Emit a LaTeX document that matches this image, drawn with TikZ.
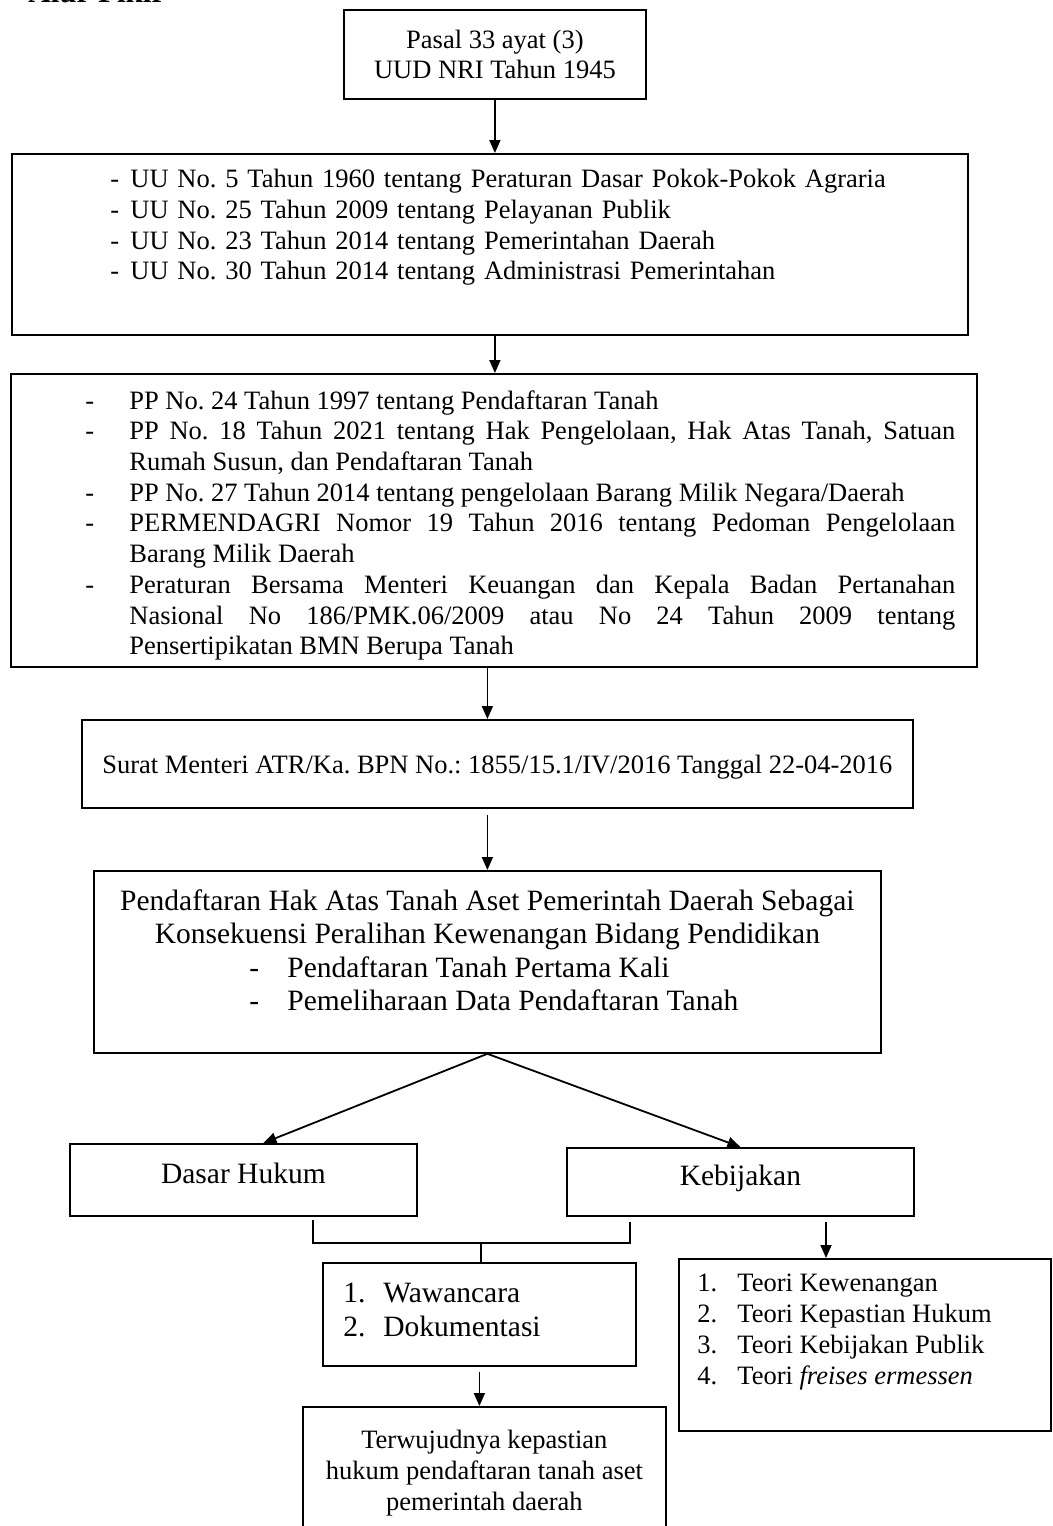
\documentclass[tikz,border=0pt]{standalone}
\usepackage{fontspec}
\setmainfont{Liberation Serif}
\usetikzlibrary{positioning,arrows.meta}

\frenchspacing
\hyphenpenalty=10000
\tolerance=9999

\newcommand{\butir}[2]{\par\noindent\hangindent=#1\hangafter=1\makebox[#1][l]{#2}\ignorespaces}

\begin{document}
\begin{tikzpicture}[x=0.5pt, y=-0.5pt,
    kotak/.style={draw, line width=0.9pt, inner sep=0pt, anchor=north west},
    teks/.style={inner sep=0pt, font=\fontsize{13.25}{15.35}\selectfont},
    teksbesar/.style={inner sep=0pt, font=\fontsize{14.75}{16.8}\selectfont},
    panah/.style={line width=0.9pt, -{Triangle[length=6.5pt, width=5.5pt]}},
    garis/.style={line width=0.9pt}]

    \useasboundingbox (0,0) rectangle (1053,1526);

    % Define nodes
    \node[anchor=base west, inner sep=0pt, font=\fontsize{15.5}{18}\selectfont\bfseries] (judul) at (28,2) {Alur Pikir};

    \node[kotak, teks, align=center, minimum width=151pt, minimum height=44.5pt] (pasal) at (343,9) {Pasal 33 ayat (3)\\UUD NRI Tahun 1945};

    \node[kotak, minimum width=478pt, minimum height=90.5pt] (uu) at (11,153) {};
    \node[teks, align=left, text width=390pt, below right=8pt and 49.5pt of uu.north west] (uuisi)
        {\makebox[10pt][l]{-}UU No. 5 Tahun 1960 tentang Peraturan Dasar Pokok-Pokok Agraria\\
         \makebox[10pt][l]{-}UU No. 25 Tahun 2009 tentang Pelayanan Publik\\
         \makebox[10pt][l]{-}UU No. 23 Tahun 2014 tentang Pemerintahan Daerah\\
         \makebox[10pt][l]{-}UU No. 30 Tahun 2014 tentang Administrasi Pemerintahan};

    \node[kotak, minimum width=483pt, minimum height=146.5pt] (pp) at (10,373) {};
    \node[teks, align=justify, text width=435pt, below right=2.5pt and 37.5pt of pp.north west] (ppisi)
        {\butir{22pt}{-}PP No. 24 Tahun 1997 tentang Pendaftaran Tanah
         \butir{22pt}{-}PP No. 18 Tahun 2021 tentang Hak Pengelolaan, Hak Atas Tanah, Satuan\linebreak
             Rumah Susun, dan Pendaftaran Tanah
         \butir{22pt}{-}PP No. 27 Tahun 2014 tentang pengelolaan Barang Milik Negara/Daerah
         \butir{22pt}{-}PERMENDAGRI Nomor 19 Tahun 2016 tentang Pedoman Pengelolaan\linebreak
             Barang Milik Daerah
         \butir{22pt}{-}Peraturan Bersama Menteri Keuangan dan Kepala Badan Pertanahan\linebreak
             Nasional No 186/PMK.06/2009 atau No 24 Tahun 2009 tentang\linebreak
             Pensertipikatan BMN Berupa Tanah\par};

    \node[kotak, teks, minimum width=415.5pt, minimum height=44pt, text height=12pt] (surat) at (81,719)
        {Surat Menteri ATR/Ka. BPN No.: 1855/15.1/IV/2016 Tanggal 22-04-2016};

    \node[kotak, minimum width=393.5pt, minimum height=91pt] (hak) at (93,870) {};
    \node[teksbesar, align=center, below=9.5pt of hak.north] (hakisi)
        {Pendaftaran Hak Atas Tanah Aset Pemerintah Daerah Sebagai\\
         Konsekuensi Peralihan Kewenangan Bidang Pendidikan\\
         \makebox[238pt][l]{\makebox[19pt][l]{-}Pendaftaran Tanah Pertama Kali}\\
         \makebox[238pt][l]{\makebox[19pt][l]{-}Pemeliharaan Data Pendaftaran Tanah}};

    \node[kotak, teksbesar, minimum width=173.5pt, minimum height=36pt, text depth=7pt] (dasar) at (69,1143) {Dasar Hukum};
    \node[kotak, teksbesar, minimum width=173.5pt, minimum height=34pt, text depth=7pt] (kebijakan) at (566,1147) {Kebijakan};

    \node[kotak, minimum width=156.5pt, minimum height=51.5pt] (metode) at (322,1262) {};
    \node[teksbesar, align=left, below right=10.5pt and 10.5pt of metode.north west] (metodeisi)
        {\makebox[20pt][l]{1.}Wawancara\\
         \makebox[20pt][l]{2.}Dokumentasi};

    \node[kotak, minimum width=186pt, minimum height=86pt] (teori) at (678,1258) {};
    \node[teks, align=left, below right=8pt and 9.5pt of teori.north west] (teoriisi)
        {\makebox[20pt][l]{1.}Teori Kewenangan\\
         \makebox[20pt][l]{2.}Teori Kepastian Hukum\\
         \makebox[20pt][l]{3.}Teori Kebijakan Publik\\
         \makebox[20pt][l]{4.}Teori \textit{freises ermessen}};

    \node[kotak, minimum width=181.5pt, minimum height=70pt] (hasil) at (302,1406) {};
    \node[teks, align=center, below=12pt of hasil.north] (hasilisi)
        {Terwujudnya kepastian\\hukum pendaftaran tanah aset\\pemerintah daerah};

    \coordinate (kiri) at (313,1220);
    \coordinate (kanan) at (630,1222);
    \coordinate (tengah) at (481,1243);
    \coordinate (turun) at (826,1222);

    % Connect the nodes
    \draw[panah] (pasal.south) -- (pasal.south |- uu.north);
    \draw[panah] ([xshift=2.5pt]uu.south) -- ([xshift=2.5pt]uu.south |- pp.north);
    \draw[panah] (pp.south -| hak.north) -- (surat.north -| hak.north);
    \draw[panah] ([yshift=-3pt]surat.south -| hak.north) -- (hak.north);
    \draw[panah] (hak.south) -- ([xshift=10pt]dasar.north);
    \draw[panah] (hak.south) -- (kebijakan.north);
    \draw[garis] (kiri) |- (tengah) -| (kanan);
    \draw[garis] (tengah) -- (tengah |- metode.north);
    \draw[panah] (turun) -- (turun |- teori.north);
    \draw[panah] ([yshift=-2.5pt]metode.south) -- (metode.south |- hasil.north);

\end{tikzpicture}
\end{document}
